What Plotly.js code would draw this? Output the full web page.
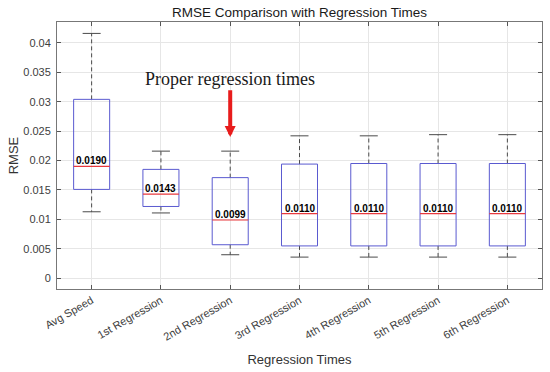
<!DOCTYPE html>
<html>
<head>
<meta charset="utf-8">
<script src="https://cdn.plot.ly/plotly-3.0.1.min.js"></script>
<style>html,body{margin:0;padding:0;background:#fff;}#chart{width:550px;height:372px;}</style>
</head>
<body>
<div id="chart"></div>
<script>
// ---- data ----
const categories = ['Avg Speed', '1st Regression', '2nd Regression', '3rd Regression', '4th Regression', '5th Regression', '6th Regression'];
const upperWhisker = [0.0416, 0.0216, 0.0216, 0.0242, 0.0242, 0.0244, 0.0244];
const q3Values     = [0.0304, 0.0185, 0.0171, 0.0194, 0.0195, 0.0195, 0.0195];
const medians      = [0.0190, 0.0143, 0.0099, 0.0110, 0.0110, 0.0110, 0.0110];
const q1Values     = [0.0151, 0.0122, 0.0057, 0.0055, 0.0055, 0.0055, 0.0055];
const lowerWhisker = [0.0113, 0.0111, 0.0040, 0.0036, 0.0036, 0.0036, 0.0036];
const yTickVals  = [0, 0.005, 0.01, 0.015, 0.02, 0.025, 0.03, 0.035, 0.04];
const yTickText  = ['0', '0.005', '0.01', '0.015', '0.02', '0.025', '0.03', '0.035', '0.04'];
const annotationText = 'Proper regression times';
const highlightIndex = 2;
const arrowTip = 0.0240;
const arrowTail = 0.0339;

// ---- build ----
const pos = categories.map((_, i) => i + 1);
const halfW = 0.26, capW = 0.13;
const boxX = [], boxY = [], whX = [], whY = [], capX = [], capY = [];
pos.forEach((c, i) => {
  boxX.push(c - halfW, c + halfW, c + halfW, c - halfW, c - halfW, null);
  boxY.push(q1Values[i], q1Values[i], q3Values[i], q3Values[i], q1Values[i], null);
  whX.push(c, c, null, c, c, null);
  whY.push(q3Values[i], upperWhisker[i], null, q1Values[i], lowerWhisker[i], null);
  capX.push(c - capW, c + capW, null, c - capW, c + capW, null);
  capY.push(upperWhisker[i], upperWhisker[i], null, lowerWhisker[i], lowerWhisker[i], null);
});

const traces = [
  {x: whX, y: whY, mode: 'lines', line: {color: '#4a4a4a', width: 1, dash: '4px,3px'}},
  {x: capX, y: capY, mode: 'lines', line: {color: '#4a4a4a', width: 1}},
  {x: boxX, y: boxY, mode: 'lines', line: {color: '#5a5ad0', width: 1}}
];
// median lines: one trace per box so each is drawn in red
pos.forEach((c, i) => {
  traces.push({x: [c - halfW, c + halfW], y: [medians[i], medians[i]], mode: 'lines', line: {color: '#e8383d', width: 1.2}});
});
traces.forEach(t => Object.assign(t, {type: 'scatter', hoverinfo: 'skip', showlegend: false}));

const annotations = medians.map((m, i) => ({
  x: pos[i], y: m, xref: 'x', yref: 'y', text: '<b>' + m.toFixed(4) + '</b>',
  showarrow: false, yanchor: 'bottom', yshift: -2,
  font: {family: 'Liberation Sans, Arial, sans-serif', size: 10, color: '#000'}
}));
annotations.push({
  x: pos[highlightIndex], y: arrowTip, xref: 'x', yref: 'y',
  ax: pos[highlightIndex], ay: arrowTail, axref: 'x', ayref: 'y',
  text: annotationText, showarrow: true, arrowhead: 2, arrowsize: 0.55, arrowwidth: 4,
  arrowcolor: '#e81c1c', standoff: 0,
  font: {family: 'Liberation Serif, Times New Roman, serif', size: 18, color: '#1a1a1a'}
});

const axisCommon = {
  showline: true, linecolor: '#777', linewidth: 1, mirror: 'allticks',
  ticks: 'inside', ticklen: 4, tickcolor: '#555',
  showgrid: true, gridcolor: '#e6e6e6', gridwidth: 1, zeroline: false,
  tickfont: {family: 'Liberation Sans, Arial, sans-serif', size: 11, color: '#404040'}
};

const layout = {
  width: 550, height: 372,
  margin: {l: 57, r: 8, t: 22, b: 83},
  paper_bgcolor: '#fff', plot_bgcolor: '#fff',
  hovermode: false, showlegend: false,
  title: {text: 'RMSE Comparison with Regression Times', x: 0.5, xref: 'paper', y: 1 - 12/372, yref: 'container', yanchor: 'middle',
    font: {family: 'Liberation Sans, Arial, sans-serif', size: 13.5, color: '#1a1a1a'}},
  xaxis: Object.assign({}, axisCommon, {
    range: [0.5, 7.5], tickvals: pos, ticktext: categories, tickangle: -30,
    title: {text: 'Regression Times', standoff: 13, font: {family: 'Liberation Sans, Arial, sans-serif', size: 13, color: '#333'}}
  }),
  yaxis: Object.assign({}, axisCommon, {
    range: [-0.00182, 0.04354], tickvals: yTickVals, ticktext: yTickText, ticklabelstandoff: 3,
    title: {text: 'RMSE', font: {family: 'Liberation Sans, Arial, sans-serif', size: 13, color: '#333'}}
  }),
  annotations: annotations
};

Plotly.newPlot('chart', traces, layout, {staticPlot: true, displayModeBar: false});
</script>
</body>
</html>
